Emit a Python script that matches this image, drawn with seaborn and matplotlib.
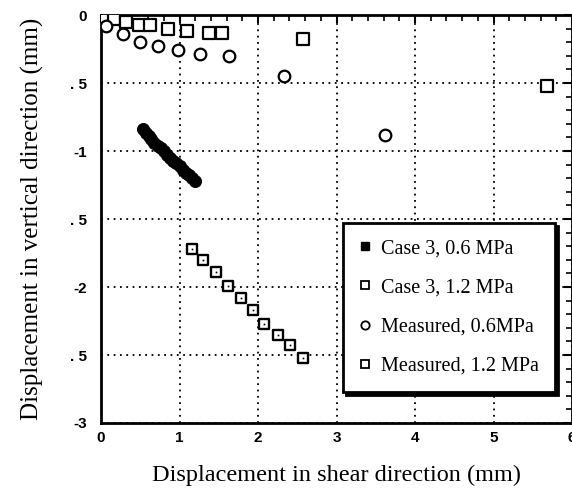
import numpy as np
import pandas as pd
import matplotlib
matplotlib.use('Agg')
import matplotlib.pyplot as plt
import seaborn as sns
from matplotlib.lines import Line2D

# data (mm)
case06_x = [0.53, 0.57, 0.61, 0.64, 0.68, 0.72, 0.76, 0.80, 0.84, 0.88,
            0.92, 0.96, 1.00, 1.04, 1.08, 1.12, 1.16, 1.20]
case06_y = [-0.84, -0.87, -0.89, -0.91, -0.94, -0.96, -0.98, -1.00, -1.03, -1.05,
            -1.07, -1.09, -1.11, -1.14, -1.16, -1.18, -1.20, -1.22]

case12_x = [1.16, 1.30, 1.46, 1.62, 1.78, 1.93, 2.08, 2.25, 2.41, 2.57]
case12_y = [-1.72, -1.80, -1.89, -1.99, -2.08, -2.17, -2.27, -2.35, -2.43, -2.52]

meas06_x = [0.07, 0.28, 0.50, 0.73, 0.98, 1.26, 1.63, 2.33, 3.62]
meas06_y = [-0.08, -0.14, -0.20, -0.23, -0.26, -0.29, -0.30, -0.45, -0.88]

meas12_x = [0.05, 0.16, 0.32, 0.49, 0.63, 0.85, 1.10, 1.37, 1.54, 2.57, 5.68]
meas12_y = [-0.02, -0.03, -0.05, -0.07, -0.07, -0.10, -0.12, -0.13, -0.13, -0.18, -0.52]

labels = ['Case 3, 0.6 MPa', 'Case 3, 1.2 MPa', 'Measured, 0.6MPa', 'Measured, 1.2 MPa']
y_ticks = [0, -0.5, -1, -1.5, -2, -2.5, -3]
y_ticklabels = ['0', '. 5', '-1', '. 5', '-2', '. 5', '-3']
x_ticks = [0, 1, 2, 3, 4, 5, 6]

sns.set_style('white')
plt.rcParams.update({'text.color': 'black', 'axes.labelcolor': 'black',
                     'xtick.color': 'black', 'ytick.color': 'black'})
serif = ['Liberation Serif', 'DejaVu Serif']
sans = ['Liberation Sans', 'DejaVu Sans']

fig = plt.figure(figsize=(5.72, 4.93), dpi=100)
ax = fig.add_axes([101 / 572, 70 / 493, 471 / 572, 408 / 493])

sns.scatterplot(x=meas12_x, y=meas12_y, marker='s', s=70, facecolor='white',
                edgecolor='black', linewidth=1.6, ax=ax, zorder=3)
sns.scatterplot(x=meas06_x, y=meas06_y, marker='o', s=70, facecolor='white',
                edgecolor='black', linewidth=1.6, ax=ax, zorder=3)
sns.scatterplot(x=case12_x, y=case12_y, marker='s', s=60, facecolor='white',
                edgecolor='black', linewidth=1.7, ax=ax, zorder=3)
sns.scatterplot(x=case12_x, y=case12_y, marker='.', s=10, color='black', ax=ax, zorder=4)
sns.scatterplot(x=case06_x, y=case06_y, marker='o', s=75, color='black',
                edgecolor='black', ax=ax, zorder=3)

ax.set_xlim(0, 6)
ax.set_ylim(-3, 0)
ax.set_xticks(x_ticks)
ax.set_xticklabels([str(t) for t in x_ticks])
ax.set_yticks(y_ticks)
ax.set_yticklabels(y_ticklabels)
ax.set_xticks(np.arange(0, 6.01, 0.2), minor=True)
ax.set_yticks(np.arange(-3, 0.01, 0.1), minor=True)
ax.tick_params(which='both', direction='in', top=True, right=True, color='black')
ax.tick_params(which='major', length=6, width=1.5)
ax.tick_params(axis='y', which='major', pad=10)
ax.tick_params(axis='x', which='major', pad=6)
ax.tick_params(which='minor', length=4, width=1.2)
for lab in ax.get_xticklabels() + ax.get_yticklabels():
    lab.set_family(sans)
    lab.set_fontweight('bold')
    lab.set_fontsize(11)

for sp in ax.spines.values():
    sp.set_visible(True)
    sp.set_color('black')
    sp.set_linewidth(2)

ax.grid(True, which='major', linestyle=(0, (1, 2.5)), color='black', linewidth=1.3)

ax.set_xlabel('Displacement in shear direction (mm)', family=serif, fontsize=17.5, labelpad=14)
ax.set_ylabel('Displacement in vertical direction (mm)', family=serif, fontsize=18, labelpad=19)

handles = [
    Line2D([], [], linestyle='none', marker='s', markersize=6, color='black'),
    Line2D([], [], linestyle='none', marker='s', markersize=6, markerfacecolor='white',
           markeredgecolor='black', markeredgewidth=1.3),
    Line2D([], [], linestyle='none', marker='o', markersize=6, markerfacecolor='white',
           markeredgecolor='black', markeredgewidth=1.3),
    Line2D([], [], linestyle='none', marker='s', markersize=6, markerfacecolor='white',
           markeredgecolor='black', markeredgewidth=1.3),
]
leg = ax.legend(handles, labels, loc='upper left', bbox_to_anchor=(0.514, 0.49),
                borderaxespad=0, frameon=True, fancybox=False,
                shadow={'color': 'black', 'alpha': 1},
                prop={'family': serif, 'size': 14.5}, handlelength=0.6,
                handletextpad=0.5, labelspacing=1.0, borderpad=0.8)
leg.get_frame().set_edgecolor('black')
leg.get_frame().set_linewidth(2)
leg.get_frame().set_alpha(1)

fig.savefig('out.png', dpi=100)
